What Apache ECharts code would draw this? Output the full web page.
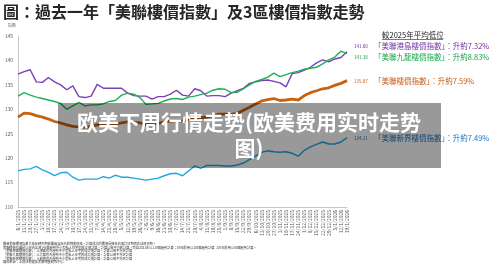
<!DOCTYPE html>
<html>
<head>
<meta charset="utf-8">
<script src="https://cdn.jsdelivr.net/npm/echarts@6/dist/echarts.min.js"></script>
<style>html,body{margin:0;padding:0;background:#fff;}#c{width:500px;height:273px;}</style>
</head>
<body>
<div id="c"></div>
<script>
const dates = ['6/1/2025','13/1/2025','20/1/2025','27/1/2025','3/2/2025','10/2/2025','17/2/2025','24/2/2025','3/3/2025','10/3/2025','17/3/2025','24/3/2025','31/3/2025','7/4/2025','14/4/2025','21/4/2025','28/4/2025','5/5/2025','12/5/2025','19/5/2025','26/5/2025','2/6/2025','9/6/2025','16/6/2025','23/6/2025','30/6/2025','7/7/2025','14/7/2025','21/7/2025','28/7/2025','4/8/2025','11/8/2025','18/8/2025','25/8/2025','1/9/2025','8/9/2025','15/9/2025','22/9/2025','29/9/2025','6/10/2025','13/10/2025','20/10/2025','27/10/2025','3/11/2025','10/11/2025','17/11/2025','24/11/2025','1/12/2025','8/12/2025','15/12/2025','22/12/2025','29/12/2025','5/1/2026','12/1/2026','19/1/2026'];

const hkIsland = [137.2,137.7,138.1,135.6,135.5,136.5,135.6,135.0,134.0,134.8,132.6,132.4,132.7,135.1,134.3,134.3,134.3,134.3,133.3,132.8,132.7,132.7,132.1,132.6,132.6,133.1,133.9,132.9,132.7,134.2,133.8,132.7,132.8,132.8,132.6,133.3,133.8,134.3,135.3,135.6,135.9,136.0,135.7,135.4,134.6,137.3,137.5,138.0,138.6,139.5,140.1,139.7,140.3,140.6,141.80];

const kowloon = [132.7,133.4,132.9,132.5,132.2,131.9,131.6,131.2,130.0,130.7,131.4,130.7,130.9,130.9,131.1,131.6,131.8,132.9,133.3,133.1,132.4,131.0,131.1,131.2,131.7,132.1,132.2,132.0,132.5,132.7,133.0,133.3,133.9,134.2,134.1,133.4,133.5,134.2,135.0,135.7,136.1,136.6,137.4,136.7,137.1,137.5,137.8,138.2,138.4,138.6,139.3,140.1,140.7,141.9,141.38];

const overall = [128.4,129.2,129.1,128.7,128.4,128.0,127.5,127.2,126.8,126.5,126.4,126.3,126.5,126.8,126.9,127.0,127.0,127.2,127.4,127.3,127.2,126.9,127.0,127.1,127.4,127.6,127.7,127.6,127.9,128.1,128.3,128.4,128.7,129.0,129.0,128.9,129.2,129.8,130.4,131.1,131.7,132.0,132.2,131.8,131.9,132.1,131.9,132.8,133.4,133.8,134.2,134.4,134.9,135.3,135.87];

const newTerritories = [117.4,117.7,117.8,118.3,117.6,117.1,116.4,117.0,117.1,116.1,115.5,115.7,115.7,115.7,116.2,115.9,116.5,116.1,116.1,115.9,115.7,115.5,115.7,115.9,116.4,116.8,116.9,116.4,117.4,118.4,117.9,118.5,118.5,118.5,118.4,118.4,118.6,119.0,119.7,120.4,121.2,121.5,121.3,121.2,121.3,121.0,120.4,121.6,122.3,122.8,123.3,122.9,122.9,123.3,124.21];

const seriesNames = ['「美聯港島樓價指數」','「美聯九龍樓價指數」','「美聯樓價指數」','「美聯新界樓價指數」'];
const riseTexts = ['：升約7.32%','：升約8.83%','：升約7.59%','：升約7.49%'];
const yTicks = [110,115,120,125,130,135,140,145];

const titleText = '圖：過去一年「美聯樓價指數」及3區樓價指數走勢';
const compareHeading = '較2025年平均低位';
const overlayLines = ['欧美下周行情走势(欧美费用实时走势','图)'];
const footnotes = [
 '最新美聯樓價指數大致反映同期簽署買賣合約的物業價格，計算成交的樓價是按合約簽訂日期而非註冊日期。',
 '美聯樓價指數是以綜合全港143個屋苑中小型私人住宅的成交價計算，計算以每平方呎計算，而自2021年以118個屋苑計算；08年前用以100個屋苑計算；08年前用以50個屋苑計算。',
 '「美聯港島樓價指數」：以港島區內屋苑中小型私人住宅的成交價計算，計算以每平方呎計算',
 '「美聯九龍樓價指數」：以九龍區內屋苑中小型私人住宅的成交價計算，計算以每平方呎計算',
 '「美聯新界樓價指數」：以新界區內屋苑中小型私人住宅的成交價計算，計算以每平方呎計算',
 '資料來源：土地註冊處及美聯物業研究中心'
];

const colors = ['#7B3FB8','#1DB150','#C8620E','#1FA8E4'];
const labelColors = ['#7030A0','#17A34A','#C55A11','#1F74BC'];
const FONT = '"Noto Sans CJK TC","Noto Sans CJK SC",sans-serif';

const chart = echarts.init(document.getElementById('c'), null, {renderer:'canvas'});

const allSeries = [hkIsland, kowloon, overall, newTerritories];
const labelY = [46, 57, 81, 138];
const graphics = [];

graphics.push({type:'text', left:3, top:4, z:50, style:{text:titleText, font:'bold 16px '+FONT, fill:'#262626'}});
graphics.push({type:'text', left:8, top:23, z:50, style:{text:'指數', font:'4px '+FONT, fill:'#777'}});
graphics.push({type:'text', x:382, y:35, z:50, style:{text:compareHeading, font:'7.5px '+FONT, fill:'#222', textVerticalAlign:'middle'}});
graphics.push({type:'line', z:50, shape:{x1:382, y1:39.5, x2:443, y2:39.5}, style:{stroke:'#222', lineWidth:0.6}});

for (let i=0;i<4;i++){
  const arr = allSeries[i];
  graphics.push({type:'text', x:354, y:labelY[i], z:50, style:{text:arr[arr.length-1].toFixed(2), font:'4.5px '+FONT, fill:labelColors[i], textVerticalAlign:'middle'}});
  graphics.push({type:'text', x:374, y:labelY[i], z:50, style:{text:seriesNames[i]+riseTexts[i], font:'7.5px '+FONT, fill:labelColors[i], textVerticalAlign:'middle'}});
}

for (let i=0;i<footnotes.length;i++){
  graphics.push({type:'text', x:3, y:244+i*3.6, z:50, style:{text:footnotes[i], font:'3.2px '+FONT, fill:'#333', textVerticalAlign:'middle'}});
}

graphics.push({type:'rect', z:100, shape:{x:58, y:103, width:383, height:65}, style:{fill:'rgba(0,0,0,0.4)'}});
graphics.push({type:'text', x:249, y:122, z:101, style:{text:overlayLines[0], font:'bold 21px '+FONT, fill:'#fff', textAlign:'center', textVerticalAlign:'middle'}});
graphics.push({type:'text', x:249, y:148, z:101, style:{text:overlayLines[1], font:'bold 21px '+FONT, fill:'#fff', textAlign:'center', textVerticalAlign:'middle'}});

const option = {
  animation:false,
  backgroundColor:'#fff',
  grid:{left:18, right:153, top:36, bottom:66, containLabel:false},
  xAxis:{
    type:'category', data:dates, boundaryGap:false,
    axisLine:{lineStyle:{color:'#c8c8c8', width:1}},
    axisTick:{show:false},
    axisLabel:{rotate:90, interval:0, fontSize:5, margin:3, color:'#595959', fontFamily:FONT},
    splitLine:{show:false}
  },
  yAxis:{
    type:'value', min:yTicks[0], max:yTicks[yTicks.length-1], interval:5,
    axisLine:{show:true, lineStyle:{color:'#c8c8c8', width:1}},
    axisTick:{show:false},
    axisLabel:{fontSize:5, margin:5, color:'#595959', fontFamily:FONT},
    splitLine:{show:false}
  },
  series:[
    {name:seriesNames[0], type:'line', data:hkIsland, symbol:'none', lineStyle:{color:colors[0], width:1.4}, itemStyle:{color:colors[0]}, z:3},
    {name:seriesNames[1], type:'line', data:kowloon, symbol:'none', lineStyle:{color:colors[1], width:1.4}, itemStyle:{color:colors[1]}, z:4},
    {name:seriesNames[2], type:'line', data:overall, symbol:'none', lineStyle:{color:colors[2], width:2.8}, itemStyle:{color:colors[2]}, z:2},
    {name:seriesNames[3], type:'line', data:newTerritories, symbol:'none', lineStyle:{color:colors[3], width:1.4}, itemStyle:{color:colors[3]}, z:2}
  ],
  graphic:graphics
};
chart.setOption(option);
</script>
</body>
</html>
